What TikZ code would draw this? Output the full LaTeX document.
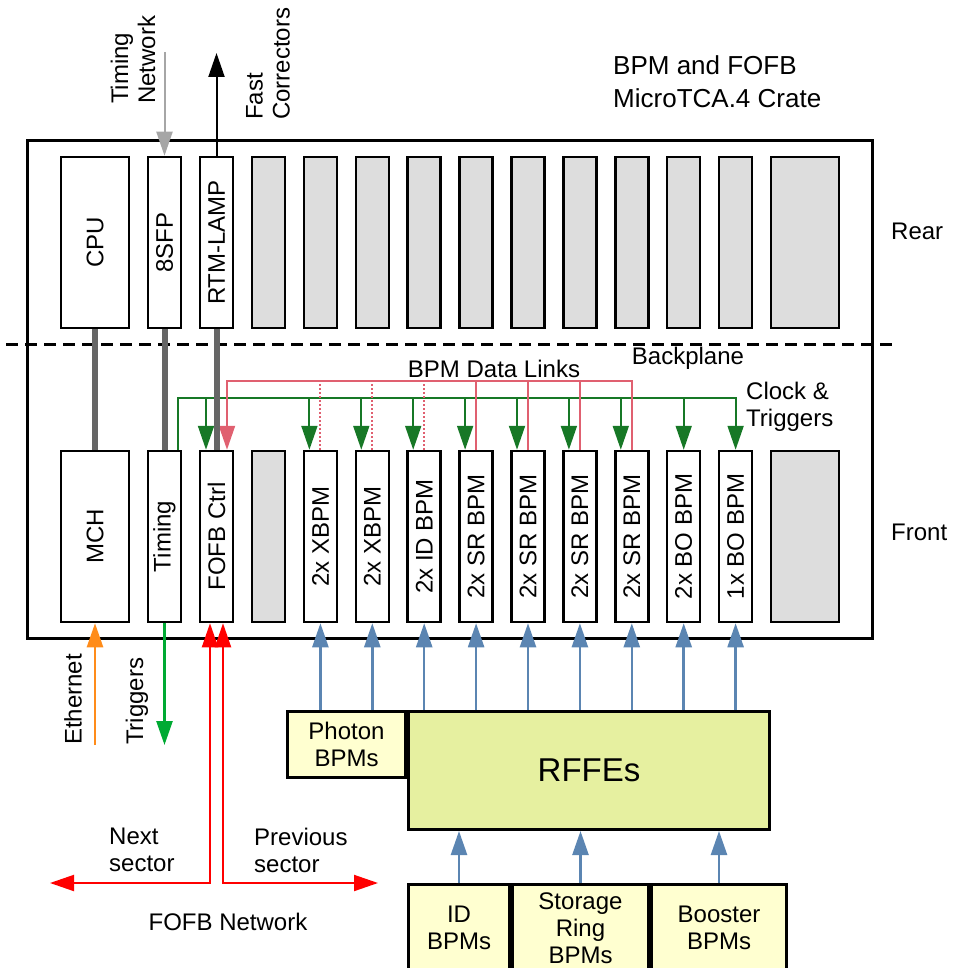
\documentclass[tikz,border=0pt]{standalone}
\usepackage{fontspec}
\setmainfont{Liberation Sans}
\usetikzlibrary{arrows.meta}
\definecolor{slotGray}{RGB}{221,221,221}
\definecolor{busGray}{RGB}{102,102,102}
\definecolor{netGray}{RGB}{166,166,166}
\definecolor{clkGreen}{RGB}{23,120,38}
\definecolor{linkRed}{RGB}{224,96,112}
\definecolor{rfBlue}{RGB}{91,133,178}
\definecolor{ethOrange}{RGB}{255,140,26}
\definecolor{trgGreen}{RGB}{0,170,51}
\definecolor{bpmYellow}{RGB}{255,255,208}
\definecolor{rffeGreen}{RGB}{230,240,160}

\begin{document}
\begin{tikzpicture}[x=1pt,y=-1pt,
        txt/.style={inner sep=0pt,font=\fontsize{24}{27}\selectfont},
        slot/.style={txt,draw,line width=2.5pt,minimum width=33pt,minimum height=171pt},
        blank/.style={slot,fill=slotGray},
        box/.style={txt,draw,line width=3pt,align=center},
        tip/.style={-{Triangle[length=24pt,width=16pt]}},
        clkarrow/.style={tip,clkGreen,line width=2pt},
        link/.style={linkRed,line width=2pt},
        linkarrow/.style={link,tip},
        rfarrow/.style={tip,rfBlue,line width=2.5pt},
        fofbarrow/.style={{Triangle[length=24pt,width=16pt]}-{Triangle[length=24pt,width=16pt]},red,line width=2pt},
        backbar/.style={busGray,line width=6pt}
      ]
        \useasboundingbox (0,0) rectangle (953,968);
        % crate and backplane
        \node[draw,line width=3pt,minimum width=845pt,minimum height=498pt,inner sep=0pt] (crate) at (450,389.5) {};
        \draw[line width=3pt,dash pattern=on 12pt off 7pt] (6,344) -- (893,344);
        % rear slots
        \node[slot,minimum width=68pt] (cpu) at (95,242.5) {\rotatebox{90}{CPU}};
        \node[slot] (sfp) at (164.5,242.5) {\rotatebox{90}{8SFP}};
        \node[slot] (rtm) at (216.5,242.5) {\rotatebox{90}{RTM-LAMP}};
        \foreach \i in {0,...,9}
          \node[blank] (r\i) at ({268.5+51.9*\i},242.5) {};
        \node[blank,minimum width=68pt] (rw) at (805,242.5) {};
        % front slots
        \node[slot,minimum width=68pt] (mch) at (95,536.5) {\rotatebox{90}{MCH}};
        \node[slot] (timing) at (164.5,536.5) {\rotatebox{90}{Timing}};
        \node[slot] (fofb) at (216.5,536.5) {\rotatebox{90}{FOFB Ctrl}};
        \node[blank] (f0) at (268.5,536.5) {};
        \foreach \lbl [count=\i, evaluate=\i as \x using 268.5+51.9*\i] in
          {2x XBPM,2x XBPM,2x ID BPM,2x SR BPM,2x SR BPM,2x SR BPM,2x SR BPM,2x BO BPM,1x BO BPM}
          \node[slot] (b\i) at (\x,536.5) {\rotatebox{90}{\lbl}};
        \node[blank,minimum width=68pt] (fw) at (805,536.5) {};

        % clock and triggers
        \draw[clkarrow] ([xshift=13.5pt]timing.north) -- ++(0,-52) -| (b9.north);
        \foreach \n/\dx in {fofb/-10.5,b1/-11,b2/-11,b3/-11,b4/-11,b5/-11,b6/-11,b7/-11,b8/0}
          \draw[clkarrow] ([xshift=\dx pt]\n.north) ++(0,-52) -- ++(0,52);
        % data links
        \draw[linkarrow] (b7.north) -- ++(0,-69) -| ([xshift=10.5pt]fofb.north);
        \foreach \n in {b4,b5,b6}
          \draw[link] (\n.north) -- ++(0,-69);
        \foreach \n in {b1,b2,b3}
          \draw[link,dash pattern=on 2pt off 2pt] (\n.north) -- ++(0,-69);
        % rear to front
        \draw[backbar] (cpu.south) -- (mch.north);
        \draw[backbar] (sfp.south) -- (timing.north);
        \draw[backbar] (rtm.south) -- (fofb.north);

        % outside links at the top
        \coordinate (tnet) at (164.5,52);
        \coordinate (fcor) at (216.5,53);
        \draw[tip,netGray,line width=2pt] (tnet) -- (sfp.north);
        \draw[tip,black,line width=2pt] (rtm.north) -- (fcor);
        \node[txt,rotate=90,anchor=west,align=left] (tnetlbl) at (133,104) {Timing\\Network};
        \node[txt,rotate=90,anchor=west,align=left] (fcorlbl) at (268,120) {Fast\\Correctors};

        % labels
        \node[txt,anchor=west,align=left,font=\fontsize{26}{33}\selectfont] (title) at (613,82) {BPM and FOFB\\MicroTCA.4 Crate};
        \node[txt] (linkslbl) at (494,369) {BPM Data Links};
        \node[txt] (bplbl) at (688,358) {Backplane};
        \node[txt,anchor=west,align=left] (clklbl) at (746,407) {Clock \&\\Triggers};
        \node[txt,anchor=west] (rearlbl) at (891,231) {Rear};
        \node[txt,anchor=west] (frontlbl) at (891,532) {Front};

        % front panel links
        \coordinate (eth) at (95,745);
        \coordinate (trg) at (164.5,745);
        \draw[tip,ethOrange,line width=2.5pt] (eth) -- (mch.south);
        \draw[tip,trgGreen,line width=2.5pt] (timing.south) -- (trg);
        \node[txt,rotate=90,anchor=west] (ethlbl) at (73,745) {Ethernet};
        \node[txt,rotate=90,anchor=west] (trglbl) at (137,745) {Triggers};

        % FOFB network
        \coordinate (nextsec) at (50,883);
        \coordinate (prevsec) at (378,883);
        \draw[fofbarrow] (nextsec) -| ([xshift=-6.5pt]fofb.south);
        \draw[fofbarrow] (prevsec) -| ([xshift=6.5pt]fofb.south);
        \node[txt,anchor=west,align=left] (nextlbl) at (109,850) {Next\\sector};
        \node[txt,anchor=west,align=left] (prevlbl) at (254,850) {Previous\\sector};
        \node[txt] (fofblbl) at (228,922) {FOFB Network};

        % front ends
        \node[box,fill=bpmYellow,minimum width=118pt,minimum height=66pt] (photon) at (346.5,744.5) {Photon\\BPMs};
        \node[box,fill=rffeGreen,minimum width=361pt,minimum height=118pt,font=\fontsize{33}{36}\selectfont] (rffe) at (589,770.5) {RFFEs};
        \node[box,fill=bpmYellow,minimum width=101pt,minimum height=87pt] (idb) at (459,928) {ID\\BPMs};
        \node[box,fill=bpmYellow,minimum width=136pt,minimum height=87pt] (srb) at (580.5,928) {Storage\\Ring\\BPMs};
        \node[box,fill=bpmYellow,minimum width=135pt,minimum height=87pt] (bob) at (719,928) {Booster\\BPMs};
        \foreach \i in {1,...,9}
          \draw[rfarrow] (b\i.south |- rffe.north) -- (b\i.south);
        \foreach \n in {idb,srb,bob}
          \draw[rfarrow] (\n.north) -- (\n.north |- rffe.south);
      \end{tikzpicture}
\end{document}
